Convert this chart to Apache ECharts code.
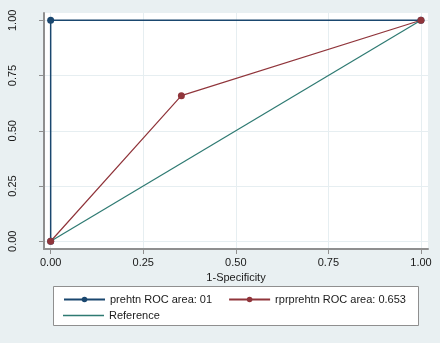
<!DOCTYPE html>
<html>
<head>
<meta charset="utf-8">
<script src="https://cdn.jsdelivr.net/npm/echarts@6/dist/echarts.min.js"></script>
<style>
  html, body { margin: 0; padding: 0; background: #e9f0f2; }
  #chart { width: 440px; height: 343px; }
</style>
</head>
<body>
<div id="chart"></div>
<script>
// ROC curve points (1-Specificity, Sensitivity)
const prehtnX = [0, 0, 1];
const prehtnY = [0, 1, 1];
const rprX = [0, 0.353, 1];
const rprY = [0, 0.659, 1];
const refX = [0, 1];
const refY = [0, 1];
const tickValues = [0, 0.25, 0.5, 0.75, 1];
const seriesNames = ['prehtn ROC area: 01', 'rprprehtn ROC area: 0.653', 'Reference'];

const toPairs = (xs, ys) => xs.map((x, i) => [x, ys[i]]);

const chart = echarts.init(document.getElementById('chart'));
const axisText = { color: '#1a1a1a', fontSize: 11, fontFamily: 'Liberation Sans, Arial, sans-serif' };

const option = {
  backgroundColor: '#e9f0f2',
  animation: false,
  grid: {
    left: 44, right: 12, top: 13, bottom: 94,
    show: true, backgroundColor: '#ffffff', borderWidth: 0
  },
  xAxis: {
    type: 'value',
    min: -0.018, max: 1.019,
    name: '1-Specificity',
    nameLocation: 'middle',
    nameGap: 17,
    nameTextStyle: axisText,
    axisLine: { show: true, onZero: false, lineStyle: { color: '#8f8f8f', width: 2 } },
    axisTick: { show: true, length: 5, customValues: tickValues, lineStyle: { color: '#8f8f8f' } },
    axisLabel: Object.assign({ customValues: tickValues, margin: 8, formatter: v => v.toFixed(2) }, axisText),
    splitLine: { show: true, lineStyle: { color: '#e6eef1', width: 1 } }
  },
  yAxis: {
    type: 'value',
    min: -0.035, max: 1.033,
    axisLine: { show: true, onZero: false, lineStyle: { color: '#8f8f8f', width: 2 } },
    axisTick: { show: true, length: 5, customValues: tickValues, lineStyle: { color: '#8f8f8f' } },
    axisLabel: Object.assign({ customValues: tickValues, rotate: 90, margin: 26, formatter: v => v.toFixed(2) }, axisText),
    splitLine: { show: true, lineStyle: { color: '#e6eef1', width: 1 } }
  },
  legend: [
    {
      data: [seriesNames[0], seriesNames[1]],
      left: 58, top: 289,
      itemWidth: 41, itemHeight: 7, itemGap: 16,
      textStyle: axisText
    },
    {
      // reference line has no marker in the key
      data: [{ name: seriesNames[2], icon: 'path://M0,0L41,0L41,1.5L0,1.5Z' }],
      left: 58, top: 305,
      itemWidth: 41, itemHeight: 7,
      textStyle: axisText
    }
  ],
  graphic: [
    {
      type: 'rect', z: -1,
      shape: { x: 53.5, y: 286.5, width: 365, height: 39 },
      style: { fill: '#ffffff', stroke: '#8f8f8f', lineWidth: 1 }
    }
  ],
  series: [
    {
      name: seriesNames[0], type: 'line',
      data: toPairs(prehtnX, prehtnY),
      symbol: 'circle', symbolSize: 7, showAllSymbol: true,
      lineStyle: { color: '#1a476f', width: 1.5 },
      itemStyle: { color: '#1a476f' }
    },
    {
      name: seriesNames[1], type: 'line',
      data: toPairs(rprX, rprY),
      symbol: 'circle', symbolSize: 7, showAllSymbol: true,
      lineStyle: { color: '#90353b', width: 1.2 },
      itemStyle: { color: '#90353b' }
    },
    {
      name: seriesNames[2], type: 'line',
      data: toPairs(refX, refY),
      symbol: 'none',
      lineStyle: { color: '#2e7a72', width: 1.2 },
      itemStyle: { color: '#2e7a72' }
    }
  ]
};

chart.setOption(option);
</script>
</body>
</html>
